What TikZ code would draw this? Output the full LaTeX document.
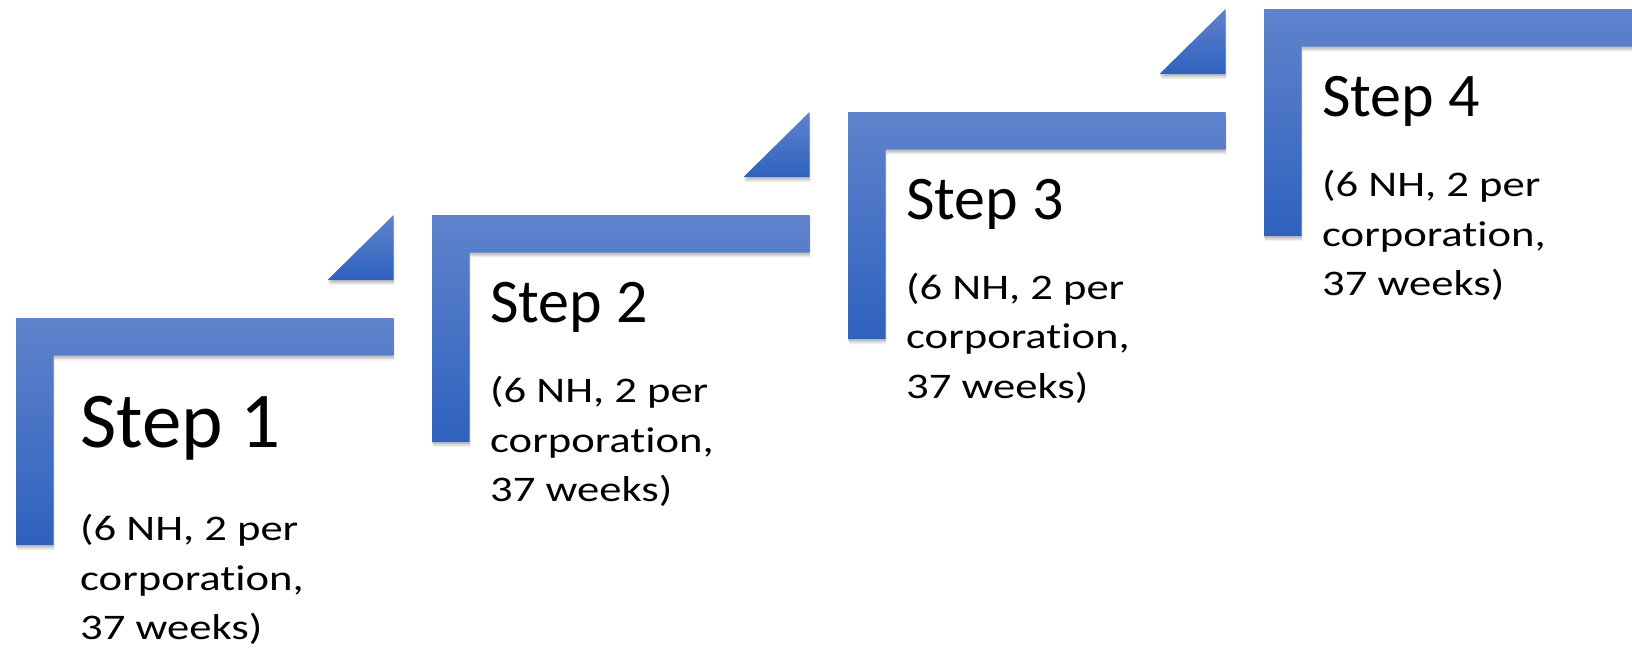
\documentclass[tikz,border=0pt]{standalone}
\usepackage{fontspec}
\setmainfont{Carlito}
\newfontfamily\detailfont[FakeStretch=1.24, Ligatures=NoCommon]{Carlito}
\definecolor{stepTop}{RGB}{96,131,204}
\definecolor{stepBot}{RGB}{46,98,190}
\tikzset{
  stepshape/.style={top color=stepTop, bottom color=stepBot, draw=none,
    preaction={fill=black, opacity=0.10, transform canvas={yshift=-2pt}},
    preaction={fill=black, opacity=0.10, transform canvas={yshift=-3.5pt, xshift=0.5pt}},
    preaction={fill=black, opacity=0.06, transform canvas={yshift=-5pt, xshift=1pt}}},
  titletext/.style={anchor=base west, inner sep=0pt, font=\fontsize{62}{62}\selectfont},
  bigtitle/.style={anchor=base west, inner sep=0pt, font=\fontsize{79}{79}\selectfont},
  detailtext/.style={anchor=base west, inner sep=0pt, align=left, font=\detailfont\fontsize{36}{49.5}\selectfont}
}
\begin{document}
\begin{tikzpicture}[x=1pt, y=-1pt]
\useasboundingbox (0,0) rectangle (1632,648);
\clip (0,0) rectangle (1632,648);
% L shapes
\foreach \i/\x/\y in {1/16/318, 2/432/215, 3/848/112, 4/1264/9}{
  \path[stepshape] (\x,\y) -- ++(377.5,0) -- ++(0,37.5) -- ++(-340,0) -- ++(0,189.5) -- ++(-37.5,0) -- cycle;
}
% triangles
\foreach \i/\r/\b in {1/393.5/280, 2/809.5/177, 3/1225.5/74}{
  \path[stepshape] (\r-66,\b) -- (\r,\b) -- (\r,\b-65) -- cycle;
}
% texts (detail nodes: base = last line's baseline)
\node[bigtitle] (t1) at (80,447) {Step 1};
\node[detailtext] (d1) at (80,639.5) {(6 NH, 2 per\\corporation,\\37 weeks)};
\node[titletext] (t2) at (490,322.7) {Step 2};
\node[detailtext] (d2) at (490,501.5) {(6 NH, 2 per\\corporation,\\37 weeks)};
\node[titletext] (t3) at (906,219.3) {Step 3};
\node[detailtext] (d3) at (906,398) {(6 NH, 2 per\\corporation,\\37 weeks)};
\node[titletext] (t4) at (1322,116.7) {Step 4};
\node[detailtext] (d4) at (1322,295.5) {(6 NH, 2 per\\corporation,\\37 weeks)};
\end{tikzpicture}
\end{document}
